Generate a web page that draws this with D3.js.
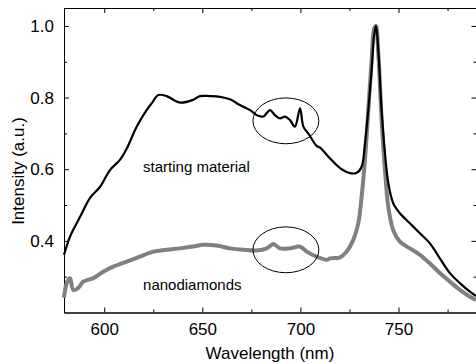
<!DOCTYPE html>
<html><head><meta charset="utf-8">
<script src="https://cdn.jsdelivr.net/npm/d3@7/dist/d3.min.js"></script>
<style>
html,body{margin:0;padding:0;background:#fff;}
svg text{font-family:"Liberation Sans",Arial,sans-serif;fill:#000;}
</style></head>
<body>
<svg id="chart" width="476" height="364"></svg>
<script>
// Starting material (black)
const startWl  = [579.5,582.6,587.7,592.8,597.9,603.0,608.0,611.5,616.6,621.6,624.2,627.6,631.8,638.6,645.4,648.8,653.9,659.0,664.1,669.2,674.3,678.5,681.1,684.5,687.0,689.6,692.1,694.7,697.2,699.8,701.5,704.0,708.3,710.0,715.1,720.2,725.3,728.7,731.2,732.9,734.6,736.3,737.5,738.5,739.7,741.4,743.1,744.8,747.3,750.7,755.8,760.9,766.0,771.1,776.2,781.3,786.4,789.5];
const startInt = [0.361,0.412,0.467,0.520,0.551,0.598,0.626,0.658,0.719,0.765,0.784,0.807,0.804,0.786,0.794,0.804,0.804,0.802,0.795,0.779,0.765,0.749,0.747,0.765,0.751,0.742,0.747,0.737,0.719,0.770,0.719,0.700,0.665,0.660,0.630,0.603,0.589,0.590,0.607,0.672,0.765,0.877,0.970,1.000,0.933,0.765,0.644,0.561,0.505,0.477,0.449,0.421,0.393,0.351,0.310,0.282,0.258,0.246];
// Nanodiamonds (gray)
const nanoWl  = [579.5,580.9,582.6,584.2,586.8,589.3,594.4,599.5,604.6,611.5,618.2,625.0,631.8,638.6,645.4,650.5,657.3,664.1,670.9,677.7,682.8,686.2,689.6,694.7,699.8,703.2,708.3,713.4,715.1,720.2,723.6,726.9,729.5,731.2,732.9,734.6,736.3,737.6,738.5,739.7,741.4,743.1,744.8,747.3,750.7,755.8,760.9,766.0,771.1,776.2,781.3,786.4,789.5];
const nanoInt = [0.241,0.282,0.296,0.263,0.269,0.286,0.296,0.314,0.328,0.342,0.356,0.370,0.375,0.379,0.384,0.389,0.387,0.379,0.375,0.373,0.379,0.391,0.379,0.379,0.384,0.370,0.356,0.347,0.351,0.354,0.370,0.402,0.449,0.523,0.626,0.765,0.905,0.993,1.000,0.923,0.737,0.598,0.495,0.430,0.398,0.379,0.361,0.337,0.310,0.286,0.263,0.244,0.235];

const xMajor = [600,650,700,750];
const xMinor = [625,675,725,775];
const yMajor = [0.4,0.6,0.8,1.0];
const yMinor = [0.3,0.5,0.7,0.9];

const labels = [
  {text:"starting material", wl:619.8, v:0.593},
  {text:"nanodiamonds", wl:619.8, v:0.263}
];
const ellipses = [
  {wl:692.6, v:0.735, rwl:16.8, rv:0.064},
  {wl:692.6, v:0.375, rwl:16.8, rv:0.064}
];

const svg = d3.select("#chart");
const L=64, R=476, T=8, B=312.5;
const x = d3.scaleLinear().domain([579.5,789.5]).range([L,R]);
const y = d3.scaleLinear().domain([0.2,1.05]).range([B,T]);

const fs = 17;
function style(g){ g.selectAll("path.domain").attr("stroke","#000").attr("stroke-width",1);
  g.selectAll(".tick line").attr("stroke","#000").attr("stroke-width",1);
  g.selectAll("text").attr("font-size",fs).attr("font-family","Liberation Sans, Arial, sans-serif").attr("fill","#000"); }

// Bottom
svg.append("g").attr("transform",`translate(0,${B})`)
  .call(d3.axisBottom(x).tickValues(xMajor).tickSize(-5).tickPadding(10).tickSizeOuter(0).tickFormat(d3.format("d"))).call(style);
svg.append("g").attr("transform",`translate(0,${B})`)
  .call(d3.axisBottom(x).tickValues(xMinor).tickSize(-3).tickSizeOuter(0).tickFormat("")).call(style);
// Top
svg.append("g").attr("transform",`translate(0,${T})`)
  .call(d3.axisTop(x).tickValues(xMajor).tickSize(-5).tickSizeOuter(0).tickFormat("")).call(style);
svg.append("g").attr("transform",`translate(0,${T})`)
  .call(d3.axisTop(x).tickValues(xMinor).tickSize(-3).tickSizeOuter(0).tickFormat("")).call(style);
// Left
svg.append("g").attr("transform",`translate(${L},0)`)
  .call(d3.axisLeft(y).tickValues(yMajor).tickSize(-5).tickPadding(10).tickSizeOuter(0).tickFormat(d3.format(".1f"))).call(style);
svg.append("g").attr("transform",`translate(${L},0)`)
  .call(d3.axisLeft(y).tickValues(yMinor).tickSize(-3).tickSizeOuter(0).tickFormat("")).call(style);
// Right
svg.append("g").attr("transform",`translate(${R+0.5},0)`)
  .call(d3.axisRight(y).tickValues(yMajor).tickSize(-5).tickSizeOuter(0).tickFormat("")).call(style);
svg.append("g").attr("transform",`translate(${R+0.5},0)`)
  .call(d3.axisRight(y).tickValues(yMinor).tickSize(-3).tickSizeOuter(0).tickFormat("")).call(style);

const line = d3.line().x(d=>x(d[0])).y(d=>y(d[1])).curve(d3.curveCatmullRom.alpha(0.5));
svg.append("path").datum(d3.zip(nanoWl,nanoInt)).attr("d",line)
  .attr("fill","none").attr("stroke","#808080").attr("stroke-width",4).attr("stroke-linejoin","round");
svg.append("path").datum(d3.zip(startWl,startInt)).attr("d",line)
  .attr("fill","none").attr("stroke","#000").attr("stroke-width",2.2).attr("stroke-linejoin","round");

svg.selectAll("ellipse.mark").data(ellipses).enter().append("ellipse")
  .attr("cx",d=>x(d.wl)).attr("cy",d=>y(d.v))
  .attr("rx",d=>x(d.wl+d.rwl)-x(d.wl)).attr("ry",d=>y(d.v-d.rv)-y(d.v))
  .attr("fill","none").attr("stroke","#000").attr("stroke-width",1);

svg.selectAll("text.lab").data(labels).enter().append("text")
  .attr("x",d=>x(d.wl)).attr("y",d=>y(d.v)).attr("font-size",15).text(d=>d.text);

svg.append("text").attr("x",(L+R)/2).attr("y",359).attr("text-anchor","middle").attr("font-size",fs).text("Wavelength (nm)");
svg.append("text").attr("transform",`translate(23.5,171) rotate(-90)`).attr("text-anchor","middle").attr("font-size",fs).text("Intensity (a.u.)");
</script>
</body></html>
